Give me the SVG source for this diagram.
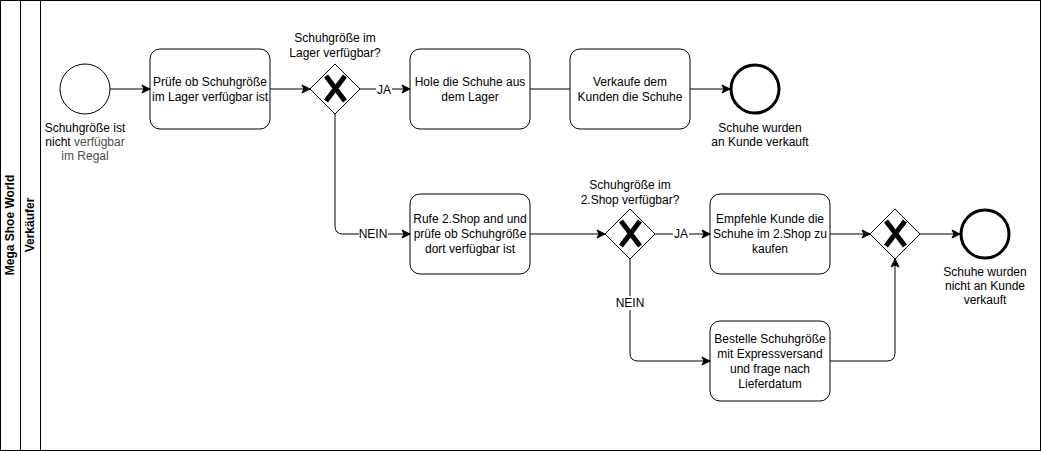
<svg xmlns="http://www.w3.org/2000/svg" width="1041" height="451" viewBox="0 0 1041 451">
<style>
.t{font-family:"Liberation Sans",Arial,sans-serif;font-size:12px;fill:#000;text-anchor:middle}
.b{font-weight:bold}
.task{fill:#fff;stroke:#000;stroke-width:1}
.gw{fill:#fff;stroke:#000;stroke-width:1}
.x{stroke:#000;stroke-width:5;fill:none}
.e{fill:none;stroke:#000;stroke-width:1}
.bg{fill:#fff}
.g{fill:#4d4d4d}
</style>
<defs>
<marker id="a" markerWidth="10" markerHeight="10" refX="9" refY="5" orient="auto" markerUnits="userSpaceOnUse">
<path d="M1,1 L9,5 L1,9 L3,5 Z" fill="#000" stroke="#000" stroke-width="1"/>
</marker>
</defs>
<rect width="1041" height="451" fill="#fff"/>
<g id="pool">
<rect x="0.5" y="0.5" width="1040" height="450" fill="none" stroke="#000"/>
<line x1="20.5" y1="0.5" x2="20.5" y2="450.5" stroke="#000"/>
<line x1="40.5" y1="0.5" x2="40.5" y2="450.5" stroke="#000"/>
<text class="t b" transform="translate(14,225) rotate(-90)">Mega Shoe World</text>
<text class="t b" transform="translate(34,225) rotate(-90)">Verkäufer</text>
</g>
<g id="connectors">
<path class="e" d="M110,89 L150,89" marker-end="url(#a)"/>
<path class="e" d="M270,89 L310,89" marker-end="url(#a)"/>
<path class="e" d="M360,89 L410,89" marker-end="url(#a)"/>
<path class="e" d="M530,89 L570,89"/>
<path class="e" d="M690,89 L730,89" marker-end="url(#a)"/>
<path class="e" d="M335,114 L335,226 Q335,234 343,234 L410,234" marker-end="url(#a)"/>
<path class="e" d="M530,234 L605,234" marker-end="url(#a)"/>
<path class="e" d="M655,234 L710,234" marker-end="url(#a)"/>
<path class="e" d="M830,234 L870,234" marker-end="url(#a)"/>
<path class="e" d="M920,234 L960,234" marker-end="url(#a)"/>
<path class="e" d="M630,259 L630,353 Q630,361 638,361 L710,361" marker-end="url(#a)"/>
<path class="e" d="M830,361 L887,361 Q895,361 895,353 L895,259" marker-end="url(#a)"/>
<rect class="bg" x="376" y="82" width="16" height="14"/>
<text class="t" x="384" y="94">JA</text>
<rect class="bg" x="359" y="227" width="29" height="14"/>
<text class="t" x="373" y="238">NEIN</text>
<rect class="bg" x="673" y="227" width="16" height="14"/>
<text class="t" x="681" y="238">JA</text>
<rect class="bg" x="616" y="296" width="29" height="14"/>
<text class="t" x="630" y="307">NEIN</text>
</g>
<g id="start">
<circle cx="85" cy="89" r="25" fill="#fff" stroke="#000" stroke-width="1"/>
<text class="t" x="85" y="132">Schuhgröße ist</text>
<text class="t" x="85" y="146">nicht <tspan class="g">verfügbar</tspan></text>
<text class="t g" x="85" y="160">im Regal</text>
</g>
<g id="task1">
<rect class="task" x="150" y="49" width="120" height="80" rx="10"/>
<text class="t" x="210" y="86">Prüfe ob Schuhgröße</text>
<text class="t" x="210" y="101">im Lager verfügbar ist</text>
</g>
<g id="gw1">
<path class="gw" d="M335,64 L360,89 L335,114 L310,89 Z"/>
<path class="x" d="M326,76 L345,101 M345,76 L326,101"/>
<text class="t" x="335" y="42">Schuhgröße im</text>
<text class="t" x="335" y="57">Lager verfügbar?</text>
</g>
<g id="task2">
<rect class="task" x="410" y="49" width="120" height="80" rx="10"/>
<text class="t" x="470" y="86">Hole die Schuhe aus</text>
<text class="t" x="470" y="101">dem Lager</text>
</g>
<g id="task3">
<rect class="task" x="570" y="49" width="120" height="80" rx="10"/>
<text class="t" x="630" y="86">Verkaufe dem</text>
<text class="t" x="630" y="101">Kunden die Schuhe</text>
</g>
<g id="end1">
<circle cx="755" cy="89" r="24" fill="#fff" stroke="#000" stroke-width="3"/>
<text class="t" x="760" y="132">Schuhe wurden</text>
<text class="t" x="760" y="146">an Kunde verkauft</text>
</g>
<g id="task4">
<rect class="task" x="410" y="194" width="120" height="80" rx="10"/>
<text class="t" x="470" y="223">Rufe 2.Shop and und</text>
<text class="t" x="470" y="238">prüfe ob Schuhgröße</text>
<text class="t" x="470" y="253">dort verfügbar ist</text>
</g>
<g id="gw2">
<path class="gw" d="M630,209 L655,234 L630,259 L605,234 Z"/>
<path class="x" d="M621,221 L640,246 M640,221 L621,246"/>
<text class="t" x="630" y="189">Schuhgröße im</text>
<text class="t" x="630" y="204">2.Shop verfügbar?</text>
</g>
<g id="task5">
<rect class="task" x="710" y="194" width="120" height="80" rx="10"/>
<text class="t" x="770" y="223">Empfehle Kunde die</text>
<text class="t" x="770" y="238">Schuhe im 2.Shop zu</text>
<text class="t" x="770" y="253">kaufen</text>
</g>
<g id="gw3">
<path class="gw" d="M895,209 L920,234 L895,259 L870,234 Z"/>
<path class="x" d="M886,221 L905,246 M905,221 L886,246"/>
</g>
<g id="end2">
<circle cx="985" cy="234" r="24" fill="#fff" stroke="#000" stroke-width="3"/>
<text class="t" x="985" y="276">Schuhe wurden</text>
<text class="t" x="985" y="290">nicht an Kunde</text>
<text class="t" x="985" y="304">verkauft</text>
</g>
<g id="task6">
<rect class="task" x="710" y="321" width="120" height="80" rx="10"/>
<text class="t" x="770" y="343">Bestelle Schuhgröße</text>
<text class="t" x="770" y="358">mit Expressversand</text>
<text class="t" x="770" y="373">und frage nach</text>
<text class="t" x="770" y="388">Lieferdatum</text>
</g>
</svg>
